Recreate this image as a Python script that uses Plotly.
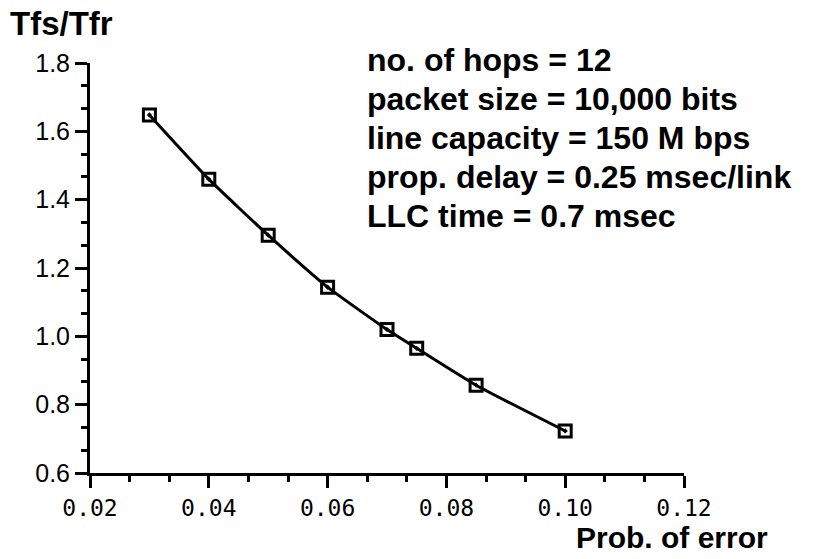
import plotly.graph_objects as go

prob_error = [0.03, 0.04, 0.05, 0.06, 0.07, 0.075, 0.085, 0.10]
ratio = [1.648, 1.460, 1.296, 1.144, 1.020, 0.965, 0.857, 0.723]
x_ticks = [0.02, 0.04, 0.06, 0.08, 0.10, 0.12]
x_tick_labels = ["0.02", "0.04", "0.06", "0.08", "0.10", "0.12"]
y_ticks = [0.6, 0.8, 1.0, 1.2, 1.4, 1.6, 1.8]
y_tick_labels = ["0.6", "0.8", "1.0", "1.2", "1.4", "1.6", "1.8"]
info_lines = [
    "no. of hops = 12",
    "packet size = 10,000 bits",
    "line capacity = 150 M bps",
    "prop. delay = 0.25 msec/link",
    "LLC time = 0.7 msec",
]

FONT = "Liberation Sans, Arial, Helvetica, sans-serif"
MONO = "DejaVu Sans Mono, monospace"

fig = go.Figure()
fig.add_trace(go.Scatter(
    x=prob_error, y=ratio, mode="lines+markers",
    line=dict(color="black", width=3, shape="spline", smoothing=0.5),
    marker=dict(symbol="square-open-dot", size=12, color="black",
                line=dict(color="black", width=3)),
    showlegend=False,
))

axis_common = dict(
    showline=True, linecolor="black", linewidth=3,
    ticks="outside", ticklen=12, tickwidth=3, tickcolor="black",
    showgrid=False, zeroline=False,
)

fig.update_xaxes(
    range=[0.02, 0.12], tickmode="array", tickvals=x_ticks, ticktext=x_tick_labels,
    tickfont=dict(family=MONO, size=23, color="black"),
    minor=dict(ticks="outside", ticklen=6, tickwidth=3, tickcolor="black", dtick=0.02 / 3,
               tick0=0.02, showgrid=False),
    **axis_common,
)
fig.update_yaxes(
    range=[0.6, 1.8], tickmode="array", tickvals=y_ticks, ticktext=y_tick_labels,
    tickfont=dict(family=FONT, size=25, color="black"),
    minor=dict(ticks="outside", ticklen=6, tickwidth=3, tickcolor="black", dtick=0.2 / 3,
               tick0=0.6, showgrid=False),
    **axis_common,
)

annotations = []
line_y = [1.0073, 0.9122, 0.8171, 0.7220, 0.6268]
for txt, yy in zip(info_lines, line_y):
    annotations.append(dict(
        x=0.463, y=yy, xref="paper", yref="paper", xanchor="left", yanchor="middle",
        text="<b>" + txt + "</b>", showarrow=False,
        font=dict(family=FONT, size=32, color="black"),
    ))
annotations.append(dict(
    x=-0.138, y=1.0963, xref="paper", yref="paper", xanchor="left", yanchor="middle",
    text="<b>Tfs/Tfr</b>", showarrow=False,
    font=dict(family=FONT, size=33, color="black"),
))
annotations.append(dict(
    x=1.144, y=-0.1585, xref="paper", yref="paper", xanchor="right", yanchor="middle",
    text="<b>Prob. of error</b>", showarrow=False,
    font=dict(family=FONT, size=30, color="black"),
))

fig.update_layout(
    width=817, height=559,
    margin=dict(l=90, r=133, t=63, b=86),
    paper_bgcolor="white", plot_bgcolor="white",
    annotations=annotations,
)

fig.write_html("out.html")
